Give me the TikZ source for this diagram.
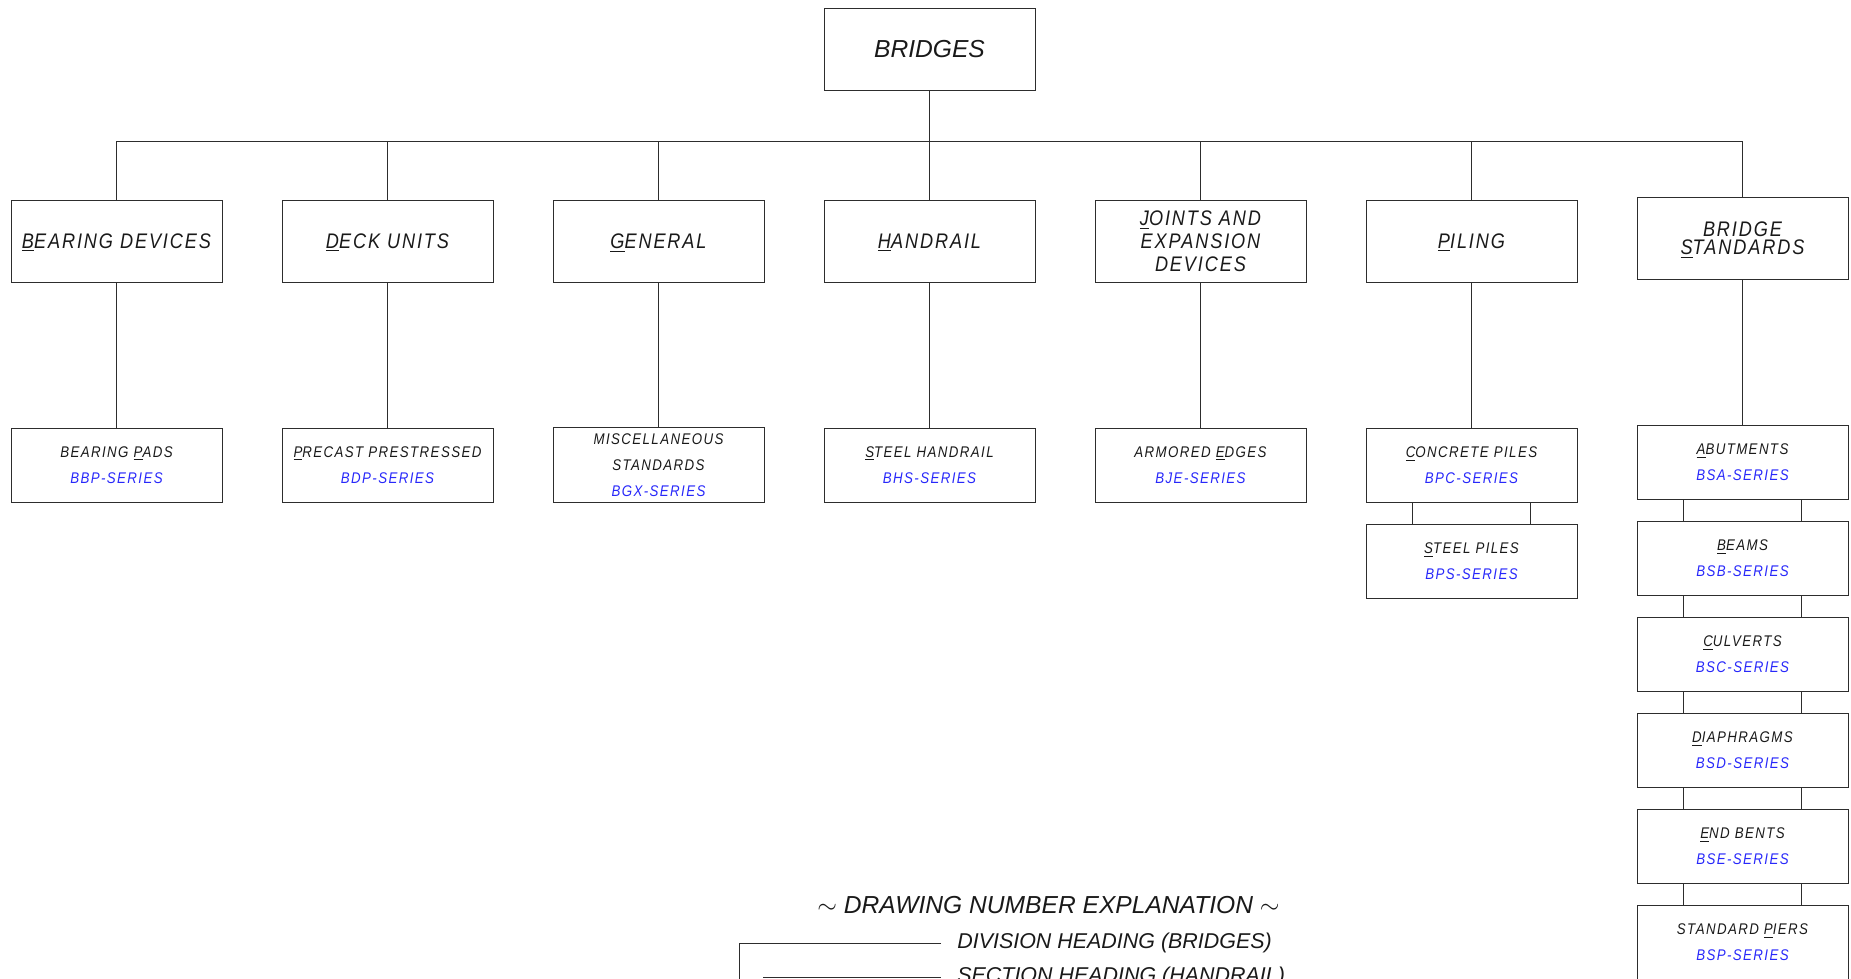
\documentclass[tikz,border=0pt]{standalone}
\usepackage{fontspec}
\setmainfont{Liberation Sans}
\newfontfamily\cadfont[FakeStretch=0.86, LetterSpace=9]{Liberation Sans}
\usepackage{tikz}
\usetikzlibrary{shapes.geometric}
\definecolor{seriesblue}{RGB}{40,40,250}
\definecolor{linegray}{RGB}{45,45,45}
\definecolor{textgray}{RGB}{25,25,25}
\newcommand{\ukey}[1]{\smash{\underline{#1}}}
\newcommand{\drgno}[1]{\textcolor{seriesblue}{#1-SERIES}}
\tikzstyle{division} = [rectangle, minimum width=4.22cm, minimum height=1.64cm, text centered, draw=linegray, line width=0.5pt, text=textgray, font=\fontsize{14}{16}\selectfont\itshape]
\tikzstyle{section} = [rectangle, minimum width=4.22cm, minimum height=1.64cm, align=center, draw=linegray, line width=0.5pt, text=textgray, font=\cadfont\fontsize{12}{13.1}\selectfont\itshape]
\tikzstyle{subsection} = [rectangle, minimum width=4.22cm, minimum height=1.48cm, align=center, draw=linegray, line width=0.5pt, text=textgray, font=\cadfont\fontsize{8.8}{14.8}\selectfont\itshape]
\tikzstyle{legendtext} = [anchor=west, inner xsep=0.32cm, inner ysep=0pt, text=textgray, font=\fontsize{12.2}{14}\selectfont\itshape]
\tikzstyle{conn} = [draw=linegray, line width=0.5pt]

\begin{document}
\begin{tikzpicture}[node distance=5.42cm]
		\useasboundingbox (0,0) rectangle (37.02,-19.58);
		\clip (0,0) rectangle (37.02,-19.58);
		\node (bridges) [division] at (18.59,-0.98) {BRIDGES};
		
		\node (handrail) [section, below of=bridges, yshift=1.58cm] {\ukey{H}ANDRAIL};
		\node (general) [section, left of=handrail] {\ukey{G}ENERAL};
		\node (deck) [section, left of=general] {\ukey{D}ECK UNITS};
		\node (bearing) [section, left of=deck] {\ukey{B}EARING DEVICES};
		\node (joints) [section, right of=handrail] {\ukey{J}OINTS AND\\EXPANSION\\DEVICES};
		\node (piling) [section, right of=joints] {\ukey{P}ILING};
		\node (standards) [section, right of=piling, yshift=0.05cm] {BRIDGE\\[-3pt]\ukey{S}TANDARDS};
		
		\node (pads) [subsection, below of=bearing, yshift=0.94cm] {BEARING \ukey{P}ADS\\\drgno{BBP}};
		\node (precast) [subsection, below of=deck, yshift=0.94cm] {\ukey{P}RECAST PRESTRESSED\\\drgno{BDP}};
		\node (misc) [subsection, below of=general, yshift=0.94cm] {MISCELLANEOUS\\STANDARDS\\\drgno{BGX}};
		\node (steelrail) [subsection, below of=handrail, yshift=0.94cm] {\ukey{S}TEEL HANDRAIL\\\drgno{BHS}};
		\node (edges) [subsection, below of=joints, yshift=0.94cm] {ARMORED \ukey{E}DGES\\\drgno{BJE}};
		\node (concrete) [subsection, below of=piling, yshift=0.94cm] {\ukey{C}ONCRETE PILES\\\drgno{BPC}};
		\node (steelpiles) [subsection, below of=concrete, yshift=3.5cm] {\ukey{S}TEEL PILES\\\drgno{BPS}};
		\node (abutments) [subsection, below of=standards, yshift=0.94cm] {\ukey{A}BUTMENTS\\\drgno{BSA}};
		\node (beams) [subsection, below of=abutments, yshift=3.5cm] {\ukey{B}EAMS\\\drgno{BSB}};
		\node (culverts) [subsection, below of=beams, yshift=3.5cm] {\ukey{C}ULVERTS\\\drgno{BSC}};
		\node (diaphragms) [subsection, below of=culverts, yshift=3.5cm] {\ukey{D}IAPHRAGMS\\\drgno{BSD}};
		\node (endbents) [subsection, below of=diaphragms, yshift=3.5cm] {\ukey{E}ND BENTS\\\drgno{BSE}};
		\node (piers) [subsection, below of=endbents, yshift=3.5cm] {STANDARD \ukey{P}IERS\\\drgno{BSP}};
		
		\coordinate (bus) at (0,-2.82);
		\draw [conn] (bridges) -- (handrail);
		\draw [conn] (bearing.north) -- (bearing |- bus) -- (standards |- bus) -- (standards.north);
		\draw [conn] (deck.north) -- (deck |- bus);
		\draw [conn] (general.north) -- (general |- bus);
		\draw [conn] (joints.north) -- (joints |- bus);
		\draw [conn] (piling.north) -- (piling |- bus);
		
		\draw [conn] (bearing) -- (pads);
		\draw [conn] (deck) -- (precast);
		\draw [conn] (general) -- (misc);
		\draw [conn] (handrail) -- (steelrail);
		\draw [conn] (joints) -- (edges);
		\draw [conn] (piling) -- (concrete);
		\draw [conn] (standards) -- (abutments);
		
		\draw [conn] ([xshift=-1.18cm]concrete.south) -- ([xshift=-1.18cm]steelpiles.north);
		\draw [conn] ([xshift=1.18cm]concrete.south) -- ([xshift=1.18cm]steelpiles.north);
		\draw [conn] ([xshift=-1.18cm]abutments.south) -- ([xshift=-1.18cm]beams.north);
		\draw [conn] ([xshift=1.18cm]abutments.south) -- ([xshift=1.18cm]beams.north);
		\draw [conn] ([xshift=-1.18cm]beams.south) -- ([xshift=-1.18cm]culverts.north);
		\draw [conn] ([xshift=1.18cm]beams.south) -- ([xshift=1.18cm]culverts.north);
		\draw [conn] ([xshift=-1.18cm]culverts.south) -- ([xshift=-1.18cm]diaphragms.north);
		\draw [conn] ([xshift=1.18cm]culverts.south) -- ([xshift=1.18cm]diaphragms.north);
		\draw [conn] ([xshift=-1.18cm]diaphragms.south) -- ([xshift=-1.18cm]endbents.north);
		\draw [conn] ([xshift=1.18cm]diaphragms.south) -- ([xshift=1.18cm]endbents.north);
		\draw [conn] ([xshift=-1.18cm]endbents.south) -- ([xshift=-1.18cm]piers.north);
		\draw [conn] ([xshift=1.18cm]endbents.south) -- ([xshift=1.18cm]piers.north);
		
		\node (numexpl) [text=textgray, font=\fontsize{14}{16}\selectfont\itshape] at (20.97,-18.1) {$\sim$ DRAWING NUMBER EXPLANATION $\sim$};
		\node (divlbl) [legendtext] at (18.82,-18.86) {DIVISION HEADING (BRIDGES)};
		\node (seclbl) [legendtext] at (18.82,-19.54) {SECTION HEADING (HANDRAIL)};
		\coordinate (divcorner) at (14.78,-18.86);
		\coordinate (divfoot) at (14.78,-19.9);
		\coordinate (secstart) at (15.26,-19.54);
		\draw [conn] (divlbl.west) -- (divcorner) -- (divfoot);
		\draw [conn] (secstart) -- (seclbl.west);
		\end{tikzpicture}
\end{document}
